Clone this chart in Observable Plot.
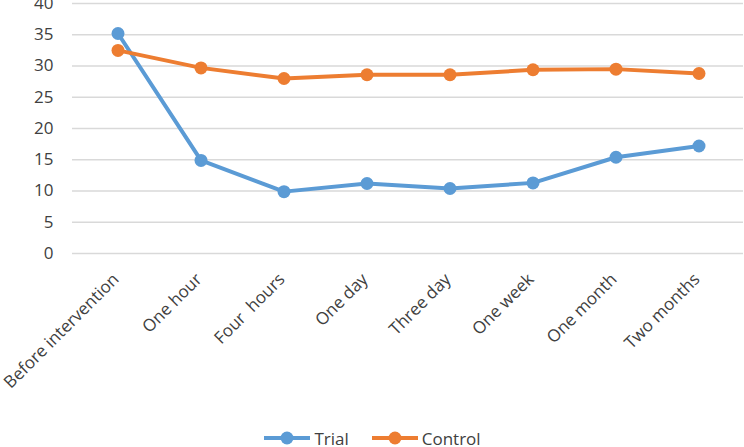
<!DOCTYPE html>
<html>
<head>
<meta charset="utf-8">
<script src="https://cdn.jsdelivr.net/npm/d3@7"></script>
<script src="https://cdn.jsdelivr.net/npm/@observablehq/plot@0.6"></script>
<style>
  html, body { margin: 0; padding: 0; background: #fff; overflow: hidden; }
  #wrap { width: 744px; height: 447px; position: relative; font-family: "Open Sans", Lato, sans-serif; }
  #legend { position: absolute; left: 0; top: 427px; width: 744px; height: 22px; display: flex; justify-content: center; align-items: center; gap: 22px; font-size: 17px; color: #404040; }
  .item { display: flex; align-items: center; gap: 3px; }
</style>
</head>
<body>
<div id="wrap"><div id="chart"></div><div id="legend"></div></div>
<script>
const categories = ["Before intervention", "One hour", "Four  hours", "One day", "Three day", "One week", "One month", "Two months"];
const trial   = [35.2, 14.9, 9.9, 11.2, 10.4, 11.3, 15.4, 17.2];
const control = [32.5, 29.7, 28.0, 28.6, 28.6, 29.4, 29.5, 28.8];
const seriesNames = ["Trial", "Control"];
const seriesColors = ["#5b9bd5", "#ed7d31"];
const yTicks = [0, 5, 10, 15, 20, 25, 30, 35, 40];

const rows = [];
categories.forEach((c, i) => {
  rows.push({cat: c, series: "Trial", value: trial[i]});
  rows.push({cat: c, series: "Control", value: control[i]});
});

const chart = Plot.plot({
  width: 744,
  height: 428,
  marginLeft: 72,
  marginRight: 1,
  marginTop: 3,
  marginBottom: 175,
  style: {fontFamily: "'Open Sans', Lato, sans-serif", fontSize: "17px", color: "#404040", background: "#fff"},
  x: {type: "band", domain: categories, padding: 0, axis: null},
  y: {domain: [0, 40], ticks: yTicks, label: null, tickSize: 0, tickPadding: 19},
  color: {domain: seriesNames, range: seriesColors},
  marks: [
    Plot.gridY(yTicks, {stroke: "#d9d9d9", strokeOpacity: 1, strokeWidth: 1.5}),
    Plot.axisY(yTicks, {tickSize: 0, tickPadding: 19, label: null, fontSize: 17, fill: "#404040"}),
    Plot.text(categories, {x: d => d, frameAnchor: "bottom", dx: -2, dy: 23, rotate: -45, textAnchor: "end", lineAnchor: "middle", fontSize: 17, fill: "#404040"}),
    Plot.line(rows, {x: "cat", y: "value", z: "series", stroke: "series", strokeWidth: 4, curve: "linear"}),
    Plot.dot(rows, {x: "cat", y: "value", fill: "series", r: 6.5, stroke: null})
  ]
});
document.getElementById("chart").appendChild(chart);

const legend = document.getElementById("legend");
seriesNames.forEach((name, i) => {
  const item = document.createElement("div");
  item.className = "item";
  item.innerHTML = `<svg width="48" height="14"><line x1="1" x2="47" y1="7" y2="7" stroke="${seriesColors[i]}" stroke-width="4"/><circle cx="24" cy="7" r="6.5" fill="${seriesColors[i]}"/></svg><span>${name}</span>`;
  legend.appendChild(item);
});
</script>
</body>
</html>
